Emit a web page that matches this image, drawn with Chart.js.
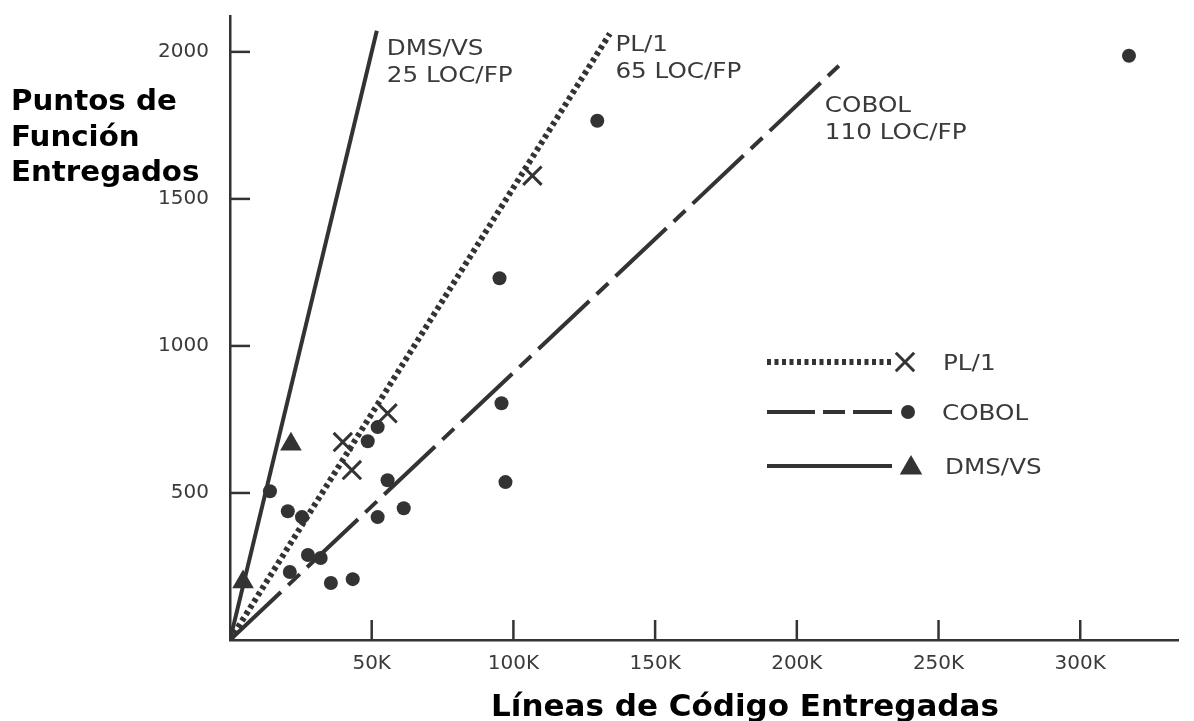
<!DOCTYPE html>
<html>
<head>
<meta charset="utf-8">
<script src="https://cdn.jsdelivr.net/npm/chart.js@4.4.1/dist/chart.umd.min.js"></script>
<style>
  html, body { margin: 0; padding: 0; background: #fff; }
  canvas { display: block; }
</style>
</head>
<body>
<canvas id="chart" width="1194" height="721"></canvas>
<script>
// Languages and their productivity ratio (lines of code per function point)
const languages = ['PL/1', 'COBOL', 'DMS/VS'];
const locPerFp = [65, 110, 25];
// Function points where each reference line stops
const lineTopFp = [2062, 1953, 2072];

// Delivered projects: lines of code vs. function points
const pl1Loc = [39800, 43000, 55600, 106700];
const pl1Fp = [673, 578, 771, 1579];

const cobolLoc = [14100, 20400, 25400, 21100, 27500, 32000, 35600, 43300, 48600,
                  52100, 55600, 52100, 61300, 95100, 95800, 97200, 129600, 317200];
const cobolFp = [506, 438, 418, 231, 289, 279, 194, 207, 676,
                 724, 543, 418, 448, 1230, 805, 537, 1766, 1987];

const dmsLoc = [4600, 21500];
const dmsFp = [197, 666];

// Axis ticks
const xTickValues = [50000, 100000, 150000, 200000, 250000, 300000];
const xTickLabels = ['50K', '100K', '150K', '200K', '250K', '300K'];
const yTickValues = [500, 1000, 1500, 2000];
const yTickLabels = ['500', '1000', '1500', '2000'];

const yTitleLines = ['Puntos de', 'Función', 'Entregados'];
const xTitle = 'Líneas de Código Entregadas';

const INK = '#333333';
const TEXT = '#3a3a3a';

function toPoints(xs, ys) { return xs.map((x, i) => ({ x: x, y: ys[i] })); }
function ratioLine(i) {
  const top = lineTopFp[i];
  return [{ x: 0, y: 0 }, { x: top * locPerFp[i], y: top }];
}
function labelFor(values, labels, v) {
  const i = values.indexOf(v);
  return i >= 0 ? labels[i] : '';
}

function stretchText(ctx, str, x, y, font, sx, color) {
  ctx.save();
  ctx.font = font;
  ctx.fillStyle = color;
  ctx.textBaseline = 'alphabetic';
  ctx.textAlign = 'left';
  ctx.translate(x, y);
  ctx.scale(sx, 1);
  ctx.fillText(str, 0, 0);
  ctx.restore();
}

function drawMarker(ctx, style, x, y, r) {
  ctx.save();
  ctx.fillStyle = INK;
  ctx.strokeStyle = INK;
  ctx.beginPath();
  if (style === 'circle') {
    ctx.arc(x, y, r, 0, Math.PI * 2);
    ctx.fill();
  } else if (style === 'triangle') {
    ctx.moveTo(x, y - r);
    ctx.lineTo(x + r * 0.866, y + r / 2);
    ctx.lineTo(x - r * 0.866, y + r / 2);
    ctx.closePath();
    ctx.fill();
  } else {
    const d = r * 0.7071;
    ctx.lineWidth = 3;
    ctx.moveTo(x - d, y - d); ctx.lineTo(x + d, y + d);
    ctx.moveTo(x + d, y - d); ctx.lineTo(x - d, y + d);
    ctx.stroke();
  }
  ctx.restore();
}

// Inward tick marks, line captions, axis titles and legend
const annotations = {
  id: 'annotations',
  afterDraw(chart) {
    const ctx = chart.ctx;
    const xs = chart.scales.x, ys = chart.scales.y;
    const area = chart.chartArea;

    ctx.save();
    ctx.strokeStyle = INK;
    ctx.lineWidth = 2.5;
    xs.ticks.forEach(t => {
      const px = xs.getPixelForValue(t.value);
      ctx.beginPath(); ctx.moveTo(px, area.bottom); ctx.lineTo(px, area.bottom - 20); ctx.stroke();
    });
    ys.ticks.forEach(t => {
      const py = ys.getPixelForValue(t.value);
      ctx.beginPath(); ctx.moveTo(area.left, py); ctx.lineTo(area.left + 20, py); ctx.stroke();
    });
    ctx.restore();

    // Ratio captions beside the line tips
    const font = '22px "DejaVu Sans"';
    const captionAt = [[136000, 2004], [209900, 1797], [55300, 1990]];
    languages.forEach((name, i) => {
      const px = xs.getPixelForValue(captionAt[i][0]);
      const py = ys.getPixelForValue(captionAt[i][1]);
      stretchText(ctx, name, px, py, font, 1.12, TEXT);
      stretchText(ctx, locPerFp[i] + ' LOC/FP', px, py + 27, font, 1.12, TEXT);
    });

    // Axis titles
    const bold = 'bold 29px "DejaVu Sans"';
    yTitleLines.forEach((s, i) => stretchText(ctx, s, 11, 110 + i * 35.5, bold, 1.01, '#000'));
    ctx.save();
    ctx.font = 'bold 31px "DejaVu Sans"';
    ctx.fillStyle = '#000';
    ctx.textAlign = 'center';
    ctx.textBaseline = 'alphabetic';
    ctx.fillText(xTitle, 745, 716);
    ctx.restore();

    // Legend
    const rows = [
      { y: 362, dash: [4, 3.5], width: 6, marker: 'cross', r: 13, mx: 905, tx: 943 },
      { y: 412, dash: [48, 8, 22, 8, 39, 200], width: 4, marker: 'circle', r: 7, mx: 908, tx: 942 },
      { y: 466, dash: [], width: 4, marker: 'triangle', r: 13, mx: 911, tx: 945 }
    ];
    rows.forEach((row, i) => {
      ctx.save();
      ctx.strokeStyle = INK;
      ctx.lineWidth = row.width;
      ctx.lineCap = 'butt';
      ctx.setLineDash(row.dash);
      ctx.beginPath(); ctx.moveTo(767, row.y); ctx.lineTo(892, row.y); ctx.stroke();
      ctx.restore();
      drawMarker(ctx, row.marker, row.mx, row.marker === 'triangle' ? row.y + 2 : row.y, row.r);
      stretchText(ctx, languages[i], row.tx, row.y + 8, font, 1.12, TEXT);
    });
  }
};

new Chart(document.getElementById('chart'), {
  type: 'scatter',
  data: {
    datasets: [
      { label: 'PL/1', data: toPoints(pl1Loc, pl1Fp), pointStyle: 'crossRot', pointRadius: 13,
        borderWidth: 3, borderColor: INK, backgroundColor: INK, order: 0 },
      { label: 'COBOL', data: toPoints(cobolLoc, cobolFp), pointStyle: 'circle', pointRadius: 7,
        borderWidth: 0, backgroundColor: INK, order: 0 },
      { label: 'DMS/VS', data: toPoints(dmsLoc, dmsFp), pointStyle: 'triangle', pointRadius: 12.5,
        borderWidth: 0, backgroundColor: INK, order: 0 },
      { type: 'line', label: 'PL/1 65 LOC/FP', data: ratioLine(0), borderColor: INK, borderWidth: 6,
        borderDash: [4, 3.5], borderCapStyle: 'butt', pointRadius: 0, fill: false, order: 1 },
      { type: 'line', label: 'COBOL 110 LOC/FP', data: ratioLine(1), borderColor: INK, borderWidth: 4,
        borderDash: [70, 10, 16, 10], borderCapStyle: 'butt', pointRadius: 0, fill: false, order: 1 },
      { type: 'line', label: 'DMS/VS 25 LOC/FP', data: ratioLine(2), borderColor: INK, borderWidth: 4,
        pointRadius: 0, fill: false, order: 1 }
    ]
  },
  options: {
    responsive: false,
    animation: false,
    events: [],
    layout: { padding: { top: 5, right: 14, left: 0, bottom: 0 } },
    plugins: { legend: { display: false }, tooltip: { enabled: false } },
    scales: {
      x: {
        type: 'linear', min: 0, max: 334500,
        afterBuildTicks(s) { s.ticks = xTickValues.map(v => ({ value: v })); },
        afterFit(s) { s.height = 81; s.paddingLeft = 0; s.paddingRight = 0; },
        ticks: {
          autoSkip: false, maxRotation: 0, padding: 12,
          color: TEXT, font: { family: 'DejaVu Sans', size: 20 },
          callback: v => labelFor(xTickValues, xTickLabels, v)
        },
        grid: { display: true, drawOnChartArea: false, drawTicks: false },
        border: { display: true, color: INK, width: 2.5 }
      },
      y: {
        type: 'linear', min: 0, max: 2122,
        afterBuildTicks(s) { s.ticks = yTickValues.map(v => ({ value: v })); },
        afterFit(s) { s.width = 230; s.paddingTop = 0; s.paddingBottom = 0; },
        ticks: {
          autoSkip: false, padding: 21,
          color: TEXT, font: { family: 'DejaVu Sans', size: 20 },
          callback: v => labelFor(yTickValues, yTickLabels, v)
        },
        grid: { display: true, drawOnChartArea: false, drawTicks: false },
        border: { display: true, color: INK, width: 2.5 }
      }
    }
  },
  plugins: [annotations]
});
</script>
</body>
</html>
